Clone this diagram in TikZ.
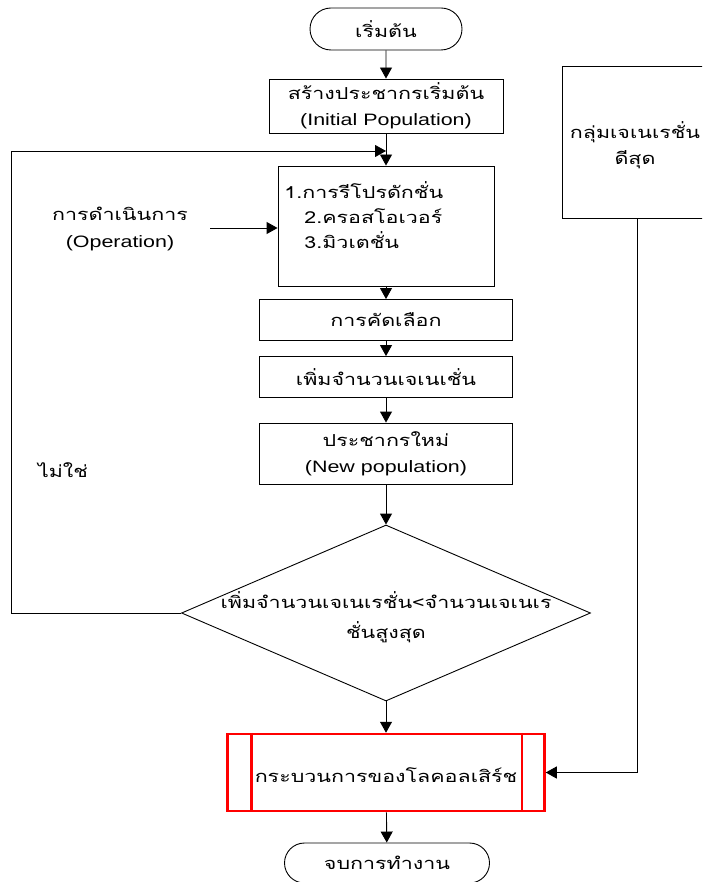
\documentclass[tikz,border=0pt]{standalone}
\usepackage{fontspec}
\setmainfont{Liberation Sans}[FakeStretch=1.3]
\newfontfamily\thai[Script=Thai,FakeStretch=1.3]{Loma}
\usetikzlibrary{shapes.geometric,shapes.misc,arrows.meta}
\tikzset{
  box/.style={draw, rectangle, inner sep=0pt, align=center},
  term/.style={draw, rounded rectangle, inner sep=0pt, align=center},
  lbl/.style={inner sep=0pt, align=center},
  arr/.style={-{Triangle[length=11pt,width=12pt]}},
  redline/.style={draw=red, line width=2.5pt}
}
\begin{document}
\begin{tikzpicture}[x=1pt,y=-1pt,line width=0.9pt,font=\fontsize{16.5}{26}\selectfont]
\clip (0,0) rectangle (702,882);
\fill[white] (0,0) rectangle (702,882);
% nodes
\node[term, minimum width=152pt, minimum height=42pt] (start) at (386,29) {\thai เริ่มต้น};
\node[box, minimum width=234pt, minimum height=54pt] (b1) at (386,106) {{\thai สร้างประชากรเริ่มต้น}\\(Initial Population)};
\node[box, minimum width=216pt, minimum height=120pt] (b2) at (386,226) {};
\node[lbl, anchor=west] (t1) at (284,190) {\thai 1.การรีโปรดักชั่น};
\node[lbl, anchor=west] (t2) at (304,216) {\thai 2.ครอสโอเวอร์};
\node[lbl, anchor=west] (t3) at (304,240) {\thai 3.มิวเตชั่น};
\node[lbl] (op) at (120,229) {{\thai การดำเนินการ}\\[1pt](Operation)};
\coordinate (opc) at (210,228);
\node[box, minimum width=253pt, minimum height=41pt] (b3) at (386,320) {\thai การคัดเลือก};
\node[box, minimum width=253pt, minimum height=41pt] (b4) at (386,377) {\thai เพิ่มจำนวนเจเนเชั่น};
\node[box, minimum width=253pt, minimum height=61pt] (b5) at (386,453.5) {{\thai ประชากรใหม่}\\(New population)};
\node[draw, diamond, inner sep=0pt, minimum width=409pt, minimum height=176pt] (d) at (386,613) {};
\node[lbl] (dt) at (386,617) {{\thai เพิ่มจำนวนเจเนเรชั่น<จำนวนเจเนเร}\\[4pt]{\thai ชั่นสูงสุด}};
\node[lbl] (no) at (63,470) {\thai ไม่ใช่};
\node[redline, rectangle, inner sep=0pt, minimum width=317pt, minimum height=77pt] (r) at (386,772.5) {};
\draw[redline] ([xshift=25pt]r.north west) -- ([xshift=25pt]r.south west);
\draw[redline] ([xshift=-24pt]r.north east) -- ([xshift=-24pt]r.south east);
\node[lbl] (rt) at (386,775) {\thai กระบวนการของโลคอลเสิร์ช};
\node[term, minimum width=205pt, minimum height=40pt] (end) at (387,863) {\thai จบการทำงาน};
\node[box, minimum width=150pt, minimum height=152pt] (rb) at (637,142) {};
\node[lbl] (rbt) at (635,145) {{\thai กลุ่มเจเนเรชั่น}\\{\thai ดีสุด}};
% connectors
\coordinate (j) at (386,151);
\coordinate (lb) at (11,613);
\coordinate (lt) at (11,151);
\draw[arr] (start) -- (b1);
\draw[arr] (b1) -- (b2);
\draw[arr] (d.west) -- (lb) -- (lt) -- (j);
\draw[arr] (opc) -- (opc -| b2.west);
\draw[arr] (b2) -- (b3);
\draw[arr] (b3) -- (b4);
\draw[arr] (b4) -- (b5);
\draw[arr] (b5) -- (d);
\draw[arr] (d) -- (r);
\draw[arr] (r) -- (end);
\draw[arr] (rb.south) |- (r.east);
\end{tikzpicture}
\end{document}
